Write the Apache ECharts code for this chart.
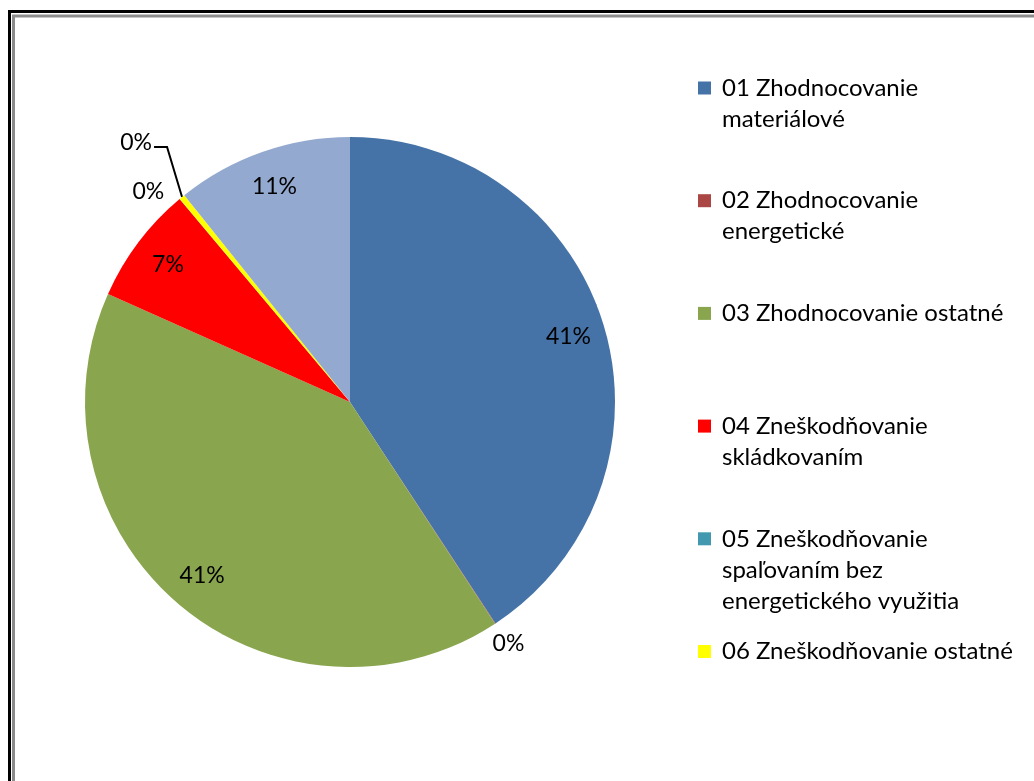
<!DOCTYPE html>
<html>
<head>
<meta charset="utf-8">
<script src="https://cdn.jsdelivr.net/npm/echarts@6/dist/echarts.min.js"></script>
<style>
html,body{margin:0;padding:0;background:#fff;}
#chart{width:1034px;height:781px;}
</style>
</head>
<body>
<div id="chart"></div>
<script>
// ---- data ----
const categories = [
  '01 Zhodnocovanie materiálové',
  '02 Zhodnocovanie energetické',
  '03 Zhodnocovanie ostatné',
  '04 Zneškodňovanie skládkovaním',
  '05 Zneškodňovanie spaľovaním bez energetického využitia',
  '06 Zneškodňovanie ostatné',
  '07 Iné'
];
const values = [40.75, 0.03, 40.9, 7.2, 0.02, 0.35, 10.75];
const legendLines = [
  ['01 Zhodnocovanie', 'materiálové'],
  ['02 Zhodnocovanie', 'energetické'],
  ['03 Zhodnocovanie ostatné'],
  ['04 Zneškodňovanie', 'skládkovaním'],
  ['05 Zneškodňovanie', 'spaľovaním bez', 'energetického využitia'],
  ['06 Zneškodňovanie ostatné']
];
const colors = ['#4572A7', '#AA4643', '#89A54E', '#FF0000', '#4198AF', '#FFFF00', '#93A9CF'];

// ---- layout / style ----
const FONT = 'Lato';
const CX = 350, CY = 402, R = 265, LABEL_R = 228;
const total = values.reduce((a, b) => a + b, 0);
const isSmall = values.map(v => v / total < 0.02);
// mid angle (radians, clockwise from 12 o'clock) of each slice
const midAngles = (() => {
  let acc = 0;
  return values.map(v => { const m = (acc + v / 2) / total * 2 * Math.PI; acc += v; return m; });
})();

// outside label settings for small slices
const smallLabelCfg = {
  1: { length: 10, length2: 0, line: false, centerDist: 24 },
  4: { length: 10, length2: 4, line: false },
  5: { length: 48, length2: 12, line: true, bend: [-15, -50], tail: 13 }
};

const data = categories.map((name, i) => {
  const item = { name, value: values[i], itemStyle: { color: colors[i] } };
  if (isSmall[i]) {
    const c = smallLabelCfg[i] || { length: 10, length2: 0, line: false };
    item.label = { position: 'outside' };
    item.labelLine = { show: c.line, length: c.length, length2: c.length2,
      lineStyle: { color: '#000', width: 2 } };
  } else {
    item.label = { position: 'inside' };
  }
  return item;
});

const legends = legendLines.map((lines, i) => {
  const padded = ['', '', lines[0], lines[1] || '', lines[2] || ''];
  const txt = padded.join('\n');
  return {
    orient: 'vertical',
    left: 698,
    top: 88 - 77.5 + i * 112.7,
    padding: 0,
    itemWidth: 13,
    itemHeight: 13,
    icon: 'rect',
    selectedMode: false,
    data: [categories[i]],
    formatter: () => txt,
    textStyle: { fontFamily: FONT, fontSize: 24, lineHeight: 31, color: '#000', padding: [0, 0, 0, 6] }
  };
});

const chart = echarts.init(document.getElementById('chart'), null, { renderer: 'canvas' });
chart.setOption({
  backgroundColor: '#fff',
  animation: false,
  legend: legends,
  graphic: [
    { type: 'rect', shape: { x: 9.5, y: 11.5, width: 1100, height: 900 },
      style: { fill: 'none', stroke: '#000', lineWidth: 3 }, silent: true },
    { type: 'rect', shape: { x: 13.5, y: 16, width: 1100, height: 900 },
      style: { fill: 'none', stroke: '#8c8c8c', lineWidth: 3 }, silent: true }
  ],
  series: [{
    type: 'pie',
    center: [CX, CY],
    radius: [0, R],
    startAngle: 90,
    clockwise: true,
    avoidLabelOverlap: false,
    minShowLabelAngle: 0,
    itemStyle: { borderWidth: 0 },
    emphasis: { disabled: true },
    label: {
      show: true,
      formatter: p => Math.round(p.percent) + '%',
      fontFamily: FONT,
      fontSize: 23,
      color: '#000'
    },
    labelLayout: function (params) {
      const i = params.dataIndex;
      if (isSmall[i]) {
        const c = smallLabelCfg[i];
        if (c && c.bend && params.labelLinePoints) {
          const p0 = params.labelLinePoints[0];
          const p1 = [p0[0] + c.bend[0], p0[1] + c.bend[1]];
          const p2 = [p1[0] - c.tail, p1[1]];
          return {
            labelLinePoints: [p0, p1, p2],
            x: p2[0] - 2, y: p2[1] - 4, align: 'right', verticalAlign: 'middle'
          };
        }
        if (c && c.centerDist) {
          const a = midAngles[i];
          const rr = R + c.centerDist;
          return { x: CX + Math.sin(a) * rr, y: CY - Math.cos(a) * rr, align: 'center', verticalAlign: 'middle' };
        }
        return {};
      }
      const lr = params.labelRect;
      const lx = lr.x + lr.width / 2, ly = lr.y + lr.height / 2;
      const dx = lx - CX, dy = ly - CY;
      const d = Math.sqrt(dx * dx + dy * dy) || 1;
      return { x: CX + dx / d * LABEL_R, y: CY + dy / d * LABEL_R, align: 'center', verticalAlign: 'middle' };
    },
    data: data
  }]
});
</script>
</body>
</html>
